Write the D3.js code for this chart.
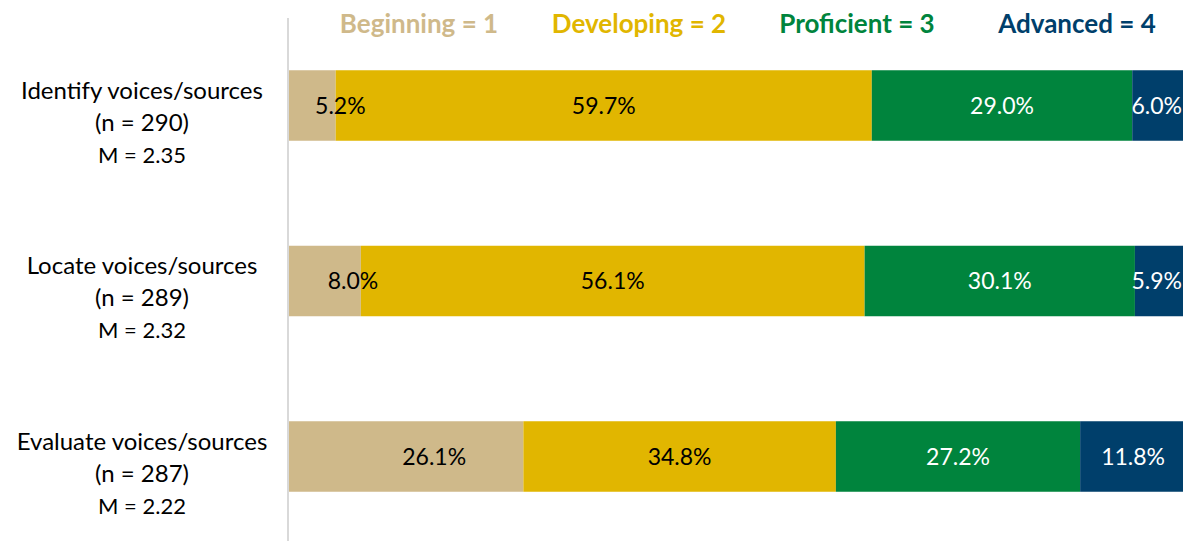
<!DOCTYPE html>
<html><head><meta charset="utf-8">
<script src="https://cdn.jsdelivr.net/npm/d3@7"></script>
<style>body{margin:0;background:#fff;} svg{display:block;font-family:Lato, "Open Sans", sans-serif;}</style>
</head><body>
<svg id="chart" width="1183" height="541"></svg>
<script>
const categories = ["Identify voices/sources", "Locate voices/sources", "Evaluate voices/sources"];
const nLabels = ["(n = 290)", "(n = 289)", "(n = 287)"];
const meanLabels = ["M = 2.35", "M = 2.32", "M = 2.22"];
const seriesNames = ["Beginning = 1", "Developing = 2", "Proficient = 3", "Advanced = 4"];
const beginning = [5.2, 8.0, 26.1];
const developing = [59.7, 56.1, 34.8];
const proficient = [29.0, 30.1, 27.2];
const advanced = [6.0, 5.9, 11.8];
const colors = ["#CFB98A", "#E1B600", "#00843D", "#003F6B"];
const textColors = ["#000", "#000", "#fff", "#fff"];

const W = 1183;
const svg = d3.select("#chart");
const x0 = 289, plotW = 898;
const x = d3.scaleLinear().domain([0, 100]).range([x0, x0 + plotW]);
const yc = d3.scalePoint().domain(categories).range([105.5, 456.5]);

const seriesVals = [beginning, developing, proficient, advanced];
const rows = categories.map((c, i) => {
  const o = {cat: c};
  seriesNames.forEach((s, j) => o[s] = seriesVals[j][i]);
  return o;
});
const stacked = d3.stack().keys(seriesNames)(rows);

// axis line
svg.append("line").attr("x1", 288).attr("x2", 288).attr("y1", 18).attr("y2", 541)
  .attr("stroke", "#d9d9d9").attr("stroke-width", 2);

const bh = 70.5;
const barY = (c) => yc(c) - bh / 2;

stacked.forEach((layer, j) => {
  svg.append("g").selectAll("rect").data(layer).join("rect")
    .attr("x", d => x(d[0]))
    .attr("y", d => barY(d.data.cat))
    .attr("width", d => x(d[1]) - x(d[0]))
    .attr("height", bh)
    .attr("fill", colors[j]);
});
stacked.forEach((layer, j) => {
  svg.append("g").selectAll("text").data(layer).join("text")
    .attr("y", d => yc(d.data.cat))
    .attr("dy", "0.35em")
    .attr("text-anchor", "middle")
    .attr("font-size", 23)
    .attr("fill", textColors[j])
    .text(d => (d[1] - d[0]).toFixed(1) + "%")
    .attr("x", function(d) {
      let cx = (x(d[0]) + x(d[1])) / 2 + (j === 0 ? 28 : 0);
      const hw = this.getComputedTextLength() / 2;
      return Math.min(cx, W - 1 - hw);
    });
});

// category labels
categories.forEach((c, i) => {
  const top = barY(c);
  const g = svg.append("g").attr("text-anchor", "middle").attr("fill", "#000");
  g.append("text").attr("x", 142).attr("y", top + 20).attr("dy", "0.35em").attr("font-size", 24).text(c);
  g.append("text").attr("x", 142).attr("y", top + 52).attr("dy", "0.35em").attr("font-size", 24).text(nLabels[i]);
  g.append("text").attr("x", 142).attr("y", top + 85).attr("dy", "0.35em").attr("font-size", 22).text(meanLabels[i]);
});

// legend
const legendX = [419, 639, 857, 1077];
seriesNames.forEach((s, j) => {
  svg.append("text").attr("x", legendX[j]).attr("y", 24).attr("dy", "0.35em")
    .attr("text-anchor", "middle").attr("font-size", 26).attr("font-weight", "bold")
    .attr("fill", colors[j]).text(s);
});
</script>
</body></html>
